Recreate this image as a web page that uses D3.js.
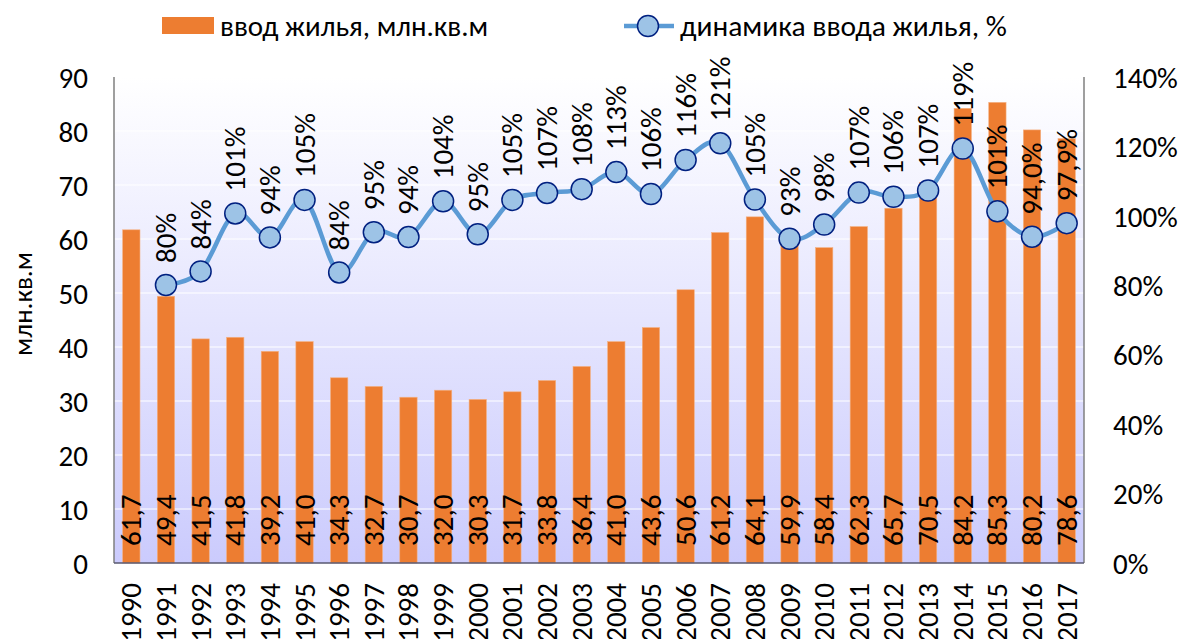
<!DOCTYPE html>
<html>
<head>
<meta charset="utf-8">
<script src="https://cdn.jsdelivr.net/npm/d3@7"></script>
<style>
body { margin: 0; background: #fff; }
text { font-family: Carlito, Calibri, "Liberation Sans", sans-serif; fill: #000; }
</style>
</head>
<body>
<div id="chart"></div>
<script>
var years = ["1990","1991","1992","1993","1994","1995","1996","1997","1998","1999","2000","2001","2002","2003","2004","2005","2006","2007","2008","2009","2010","2011","2012","2013","2014","2015","2016","2017"];
var housing = [61.7,49.4,41.5,41.8,39.2,41.0,34.3,32.7,30.7,32.0,30.3,31.7,33.8,36.4,41.0,43.6,50.6,61.2,64.1,59.9,58.4,62.3,65.7,70.5,84.2,85.3,80.2,78.6];
var dynYears = years.slice(1);
var dynamics = [80.1,84.0,100.7,93.8,104.6,83.7,95.3,93.9,104.2,94.7,104.6,106.6,107.7,112.6,106.3,116.1,120.9,104.7,93.4,97.5,106.7,105.5,107.3,119.4,101.3,94.0,97.9];
var dynLabels = ["80%","84%","101%","94%","105%","84%","95%","94%","104%","95%","105%","107%","108%","113%","106%","116%","121%","105%","93%","98%","107%","106%","107%","119%","101%","94,0%","97,9%"];
var leftTicks = [0,10,20,30,40,50,60,70,80,90];
var rightTicks = [0,20,40,60,80,100,120,140];

(function () {
var W = 1178, H = 639;
var pLeft = 114, pRight = 1084, pTop = 77, pBottom = 563;
var fs = "29px";

var svg = d3.select("#chart").append("svg").attr("width", W).attr("height", H);

var defs = svg.append("defs");
var grad = defs.append("linearGradient").attr("id", "bg").attr("x1", 0).attr("y1", 0).attr("x2", 0).attr("y2", 1);
grad.append("stop").attr("offset", "0%").attr("stop-color", "#ffffff");
grad.append("stop").attr("offset", "100%").attr("stop-color", "#cbcbfd");

var x = d3.scaleBand().domain(years).range([pLeft, pRight]).paddingInner(0.5).paddingOuter(0.25);
var y = d3.scaleLinear().domain([0, 90]).range([pBottom, pTop]);
var y2 = d3.scaleLinear().domain([0, 140]).range([pBottom, pTop]);

svg.append("rect").attr("x", pLeft).attr("y", pTop).attr("width", pRight - pLeft).attr("height", pBottom - pTop).attr("fill", "url(#bg)");

// gridlines
svg.append("g").selectAll("line").data(leftTicks.slice(1)).enter().append("line")
  .attr("x1", pLeft).attr("x2", pRight)
  .attr("y1", function(d){ return y(d); }).attr("y2", function(d){ return y(d); })
  .attr("stroke", "#ffffff").attr("stroke-width", 1.2);

// bars
svg.append("g").selectAll("rect").data(housing).enter().append("rect")
  .attr("x", function(d, i){ return x(years[i]); })
  .attr("y", function(d){ return y(d); })
  .attr("width", x.bandwidth())
  .attr("height", function(d){ return pBottom - y(d); })
  .attr("fill", "#ed7d31")
  .attr("stroke", "#f4b183").attr("stroke-width", 0.6);

// axes lines
svg.append("line").attr("x1", pLeft).attr("x2", pLeft).attr("y1", pTop).attr("y2", pBottom).attr("stroke", "#7f7f7f").attr("stroke-width", 1.5);
svg.append("line").attr("x1", pRight).attr("x2", pRight).attr("y1", pTop).attr("y2", pBottom).attr("stroke", "#7f7f7f").attr("stroke-width", 1.5);
svg.append("line").attr("x1", pLeft).attr("x2", pRight).attr("y1", pBottom).attr("y2", pBottom).attr("stroke", "#595970").attr("stroke-width", 1.5);

// axis tick labels
var yAxis = d3.axisLeft(y).tickValues(leftTicks).tickSize(0).tickPadding(26);
var gy = svg.append("g").attr("transform", "translate(" + pLeft + ",0)").call(yAxis);
gy.select(".domain").remove();

var yAxis2 = d3.axisRight(y2).tickValues(rightTicks).tickSize(0).tickPadding(29)
  .tickFormat(function(d){ return d + "%"; });
var gy2 = svg.append("g").attr("transform", "translate(" + pRight + ",0)").call(yAxis2);
gy2.select(".domain").remove();
svg.selectAll("g").attr("font-family", null).attr("font-size", null);
svg.selectAll(".tick text").style("font-size", fs).attr("dy", "0.35em");

// year labels
svg.append("g").selectAll("text").data(years).enter().append("text")
  .attr("transform", function(d){ return "translate(" + (x(d) + x.bandwidth() / 2 + 10) + "," + 583 + ") rotate(-90)"; })
  .attr("text-anchor", "end")
  .style("font-size", fs)
  .text(function(d){ return d; });

// bar value labels
svg.append("g").selectAll("text").data(housing).enter().append("text")
  .attr("transform", function(d, i){ return "translate(" + (x(years[i]) + x.bandwidth() / 2 + 10) + "," + 546 + ") rotate(-90)"; })
  .attr("text-anchor", "start")
  .style("font-size", fs)
  .text(function(d){ return d.toFixed(1).replace(".", ","); });

// dynamics line
var cx = function(d, i){ return x(dynYears[i]) + x.bandwidth() / 2; };
var line = d3.line()
  .x(cx)
  .y(function(d){ return y2(d); })
  .curve(d3.curveCatmullRom.alpha(0));
svg.append("path").datum(dynamics).attr("d", line)
  .attr("fill", "none").attr("stroke", "#5b9bd5").attr("stroke-width", 4.5).attr("stroke-linejoin", "round");

svg.append("g").selectAll("circle").data(dynamics).enter().append("circle")
  .attr("cx", cx).attr("cy", function(d){ return y2(d); }).attr("r", 10.5)
  .attr("fill", "#9dc3e6").attr("stroke", "#002080").attr("stroke-width", 1.5);

svg.append("g").selectAll("text").data(dynamics).enter().append("text")
  .attr("transform", function(d, i){ return "translate(" + (cx(d, i) + 10) + "," + (y2(d) - 22) + ") rotate(-90)"; })
  .attr("text-anchor", "start")
  .style("font-size", fs)
  .text(function(d, i){ return dynLabels[i]; });

// y axis title
svg.append("text")
  .attr("transform", "translate(32,304) rotate(-90)")
  .attr("text-anchor", "middle")
  .style("font-size", "27px")
  .text("млн.кв.м");

// legend
var lg = svg.append("g");
lg.append("rect").attr("x", 162).attr("y", 17).attr("width", 52).attr("height", 17).attr("fill", "#ed7d31");
lg.append("text").attr("x", 220).attr("y", 36).style("font-size", fs).text("ввод жилья, млн.кв.м");
lg.append("line").attr("x1", 624).attr("x2", 674).attr("y1", 26).attr("y2", 26).attr("stroke", "#5b9bd5").attr("stroke-width", 4.5);
lg.append("circle").attr("cx", 648).attr("cy", 26).attr("r", 10.5).attr("fill", "#9dc3e6").attr("stroke", "#002080").attr("stroke-width", 1.5);
lg.append("text").attr("x", 680).attr("y", 36).style("font-size", "29.5px").text("динамика ввода жилья, %");
})();
</script>
</body>
</html>
